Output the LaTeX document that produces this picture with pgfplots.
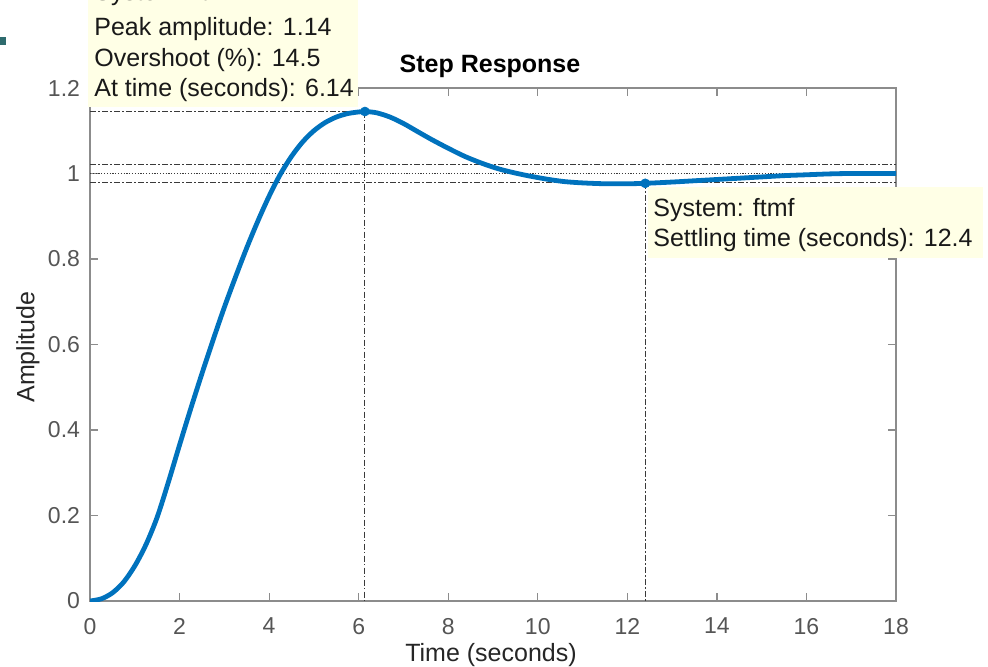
\documentclass[border=0pt]{standalone}
\usepackage{pgfplots}
\pgfplotsset{compat=1.18}
\usepackage{fontspec}
\setmainfont{Liberation Sans}
\definecolor{mblue}{HTML}{0072BD}
\definecolor{tipbg}{HTML}{FFFFE6}
\definecolor{axgray}{HTML}{8C8C8C}
\definecolor{ticklab}{HTML}{555555}
\definecolor{refline}{HTML}{3A3A3A}
\definecolor{markteal}{HTML}{2E6B6E}
\begin{document}
\begin{tikzpicture}
\begin{axis}[
  at={(45pt,-300.5pt)}, anchor=south west,
  width=403pt, height=256.5pt, scale only axis,
  xmin=0, xmax=18, ymin=0, ymax=1.2,
  xtick={0,2,4,6,8,10,12,14,16,18},
  ytick={0,0.2,0.4,0.6,0.8,1,1.2},
  tick align=inside, major tick length=4pt,
  axis line style={axgray, line width=0.7pt},
  every tick/.style={axgray, line width=0.6pt},
  tick label style={font=\fontsize{11.5}{13}\selectfont, text=ticklab},
  /pgf/number format/assume math mode=true,
  xticklabel style={yshift=-5pt},
  yticklabel style={xshift=-1.5pt},
]
% settling band and final value
\addplot[refline, line width=0.5pt, dash pattern=on 3pt off 1.2pt on 0.6pt off 1.2pt] coordinates {(0,1.02) (18,1.02)};
\addplot[refline, line width=0.5pt, dash pattern=on 3pt off 1.2pt on 0.6pt off 1.2pt] coordinates {(0,0.98) (18,0.98)};
\addplot[refline, line width=0.5pt, dash pattern=on 0.6pt off 0.8pt] coordinates {(0,1) (18,1)};
% peak markers
\addplot[refline, line width=0.5pt, dash pattern=on 3pt off 1.2pt on 0.6pt off 1.2pt] coordinates {(0,1.145) (6.14,1.145)};
\addplot[refline, line width=0.5pt, dash pattern=on 3pt off 1.2pt on 0.6pt off 1.2pt] coordinates {(6.14,1.145) (6.14,0)};
% settling time marker
\addplot[refline, line width=0.5pt, dash pattern=on 3pt off 1.2pt on 0.6pt off 1.2pt] coordinates {(12.4,0.978) (12.4,0)};
% step response
\addplot[mblue, line width=2.4pt, smooth] coordinates {
(0,0) (0.25,0.005) (0.5,0.019) (0.75,0.044) (1.0,0.082) (1.25,0.132) (1.5,0.196)
(1.75,0.278) (2.0,0.365) (2.25,0.450) (2.5,0.532) (2.75,0.611) (3.0,0.687)
(3.25,0.758) (3.5,0.826) (3.75,0.889) (4.0,0.947) (4.25,0.998) (4.5,1.040)
(4.75,1.074) (5.0,1.100) (5.25,1.119) (5.5,1.132) (5.75,1.140) (6.0,1.144)
(6.14,1.145) (6.4,1.142) (6.7,1.132) (7.0,1.117) (7.3,1.099) (7.62,1.080) (8.0,1.059)
(8.37,1.040) (8.75,1.024) (9.12,1.011) (9.5,1.001) (9.87,0.993) (10.25,0.986)
(10.6,0.981) (11.0,0.978) (11.5,0.976) (12.0,0.976) (12.4,0.977)
(13.0,0.980) (13.5,0.983) (14.0,0.986) (14.5,0.989) (15.0,0.992) (15.5,0.995)
(16.0,0.997) (16.5,0.999) (17.0,1.000) (18.0,1.000)
};
\addplot[only marks, mark=*, mark size=2.2pt, mblue] coordinates {(6.14,1.145) (12.4,0.977)};
\end{axis}
\begin{scope}[x=0.5pt, y=-0.5pt]
\path[use as bounding box] (0,0) rectangle (988,667);
\fill[markteal] (0,37) rectangle (6,45);
% title and labels
\node[font=\fontsize{12.5}{14}\selectfont\bfseries, anchor=base] at (490,73) {Step Response};
\node[font=\fontsize{12.5}{14}\selectfont, text=black!85, anchor=base] at (491,661) {Time (seconds)};
\node[font=\fontsize{12.5}{14}\selectfont, text=black!85, rotate=90, anchor=center] at (28,347) {Amplitude};
% data tip 1 (its top line is cut off by the top edge, as in the reference)
\fill[tipbg] (88,-20) rectangle (358,107);
\begin{scope}[every node/.style={font=\fontsize{12.5}{14}\selectfont, text=black!90, anchor=base west, inner sep=0pt}]
\node at (94,1) {System: ftmf};
\node at (94,36) {Peak amplitude: 1.14};
\node at (94,67) {Overshoot (\%): 14.5};
\node at (94,97) {At time (seconds): 6.14};
\end{scope}
% data tip 2
\fill[tipbg] (648,187) rectangle (983,258);
\begin{scope}[every node/.style={font=\fontsize{12.5}{14}\selectfont, text=black!90, anchor=base west, inner sep=0pt}]
\node at (653,217) {System: ftmf};
\node at (653,247) {Settling time (seconds): 12.4};
\end{scope}
\end{scope}
\end{tikzpicture}
\end{document}
